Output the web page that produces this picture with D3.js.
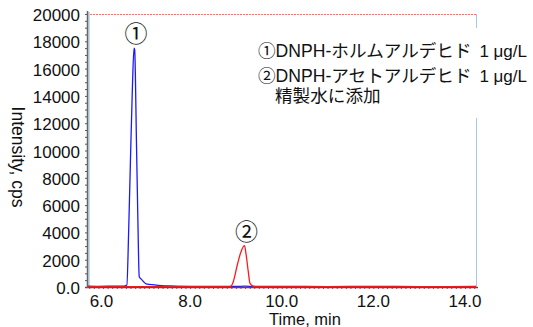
<!DOCTYPE html>
<html>
<head>
<meta charset="utf-8">
<script src="https://cdn.jsdelivr.net/npm/d3@7"></script>
<style>
  body { margin: 0; background: #fff; }
  text { font-family: "Liberation Sans", Arial, "Noto Sans CJK JP", sans-serif; fill: #111; }
</style>
</head>
<body>
<div id="chart"></div>
<script>
//data
//blue trace: DNPH-formaldehyde
let blueTime = [5.75, 6.0, 6.3, 6.55, 6.62, 6.66, 6.70, 6.74, 6.776, 6.79, 6.83, 6.86, 6.89, 6.94, 7.04, 7.22, 7.5, 8.0, 8.5, 9.0, 9.2, 9.4, 10.0, 11.0, 12.0, 13.0, 14.24];
let blueInt = [60, 50, 60, 70, 150, 4200, 9500, 14500, 17500, 17400, 10500, 5000, 750, 560, 230, 160, 80, 40, 40, 40, 60, 40, 40, 30, 40, 30, 40];

//red trace: DNPH-acetaldehyde
let redTime = [5.75, 6.5, 7.0, 7.4, 7.6, 7.8, 8.2, 8.8, 8.886, 8.942, 9.03, 9.10, 9.187, 9.219, 9.27, 9.307, 9.37, 9.45, 9.8, 10.5, 12.0, 14.24];
let redInt = [20, 20, 20, 40, 60, 40, 20, 20, 40, 390, 1610, 2470, 3030, 2470, 1120, 270, 70, 30, 20, 20, 20, 20];

//tick labels
let xTicks = [6.0, 8.0, 10.0, 12.0, 14.0];
let yTicks = [0, 2000, 4000, 6000, 8000, 10000, 12000, 14000, 16000, 18000, 20000];

//peak markers
let peakNames = ['①', '②'];
let peakTimes = [6.776, 9.187];
let peakHeights = [17500, 3030];

//legend lines
let legendNames = ['①DNPH-ホルムアルデヒド', '②DNPH-アセトアルデヒド', '精製水に添加'];
let legendConc = ['1 μg/L', '1 μg/L', ''];

//svg size
let svgWidth = 533;
let svgHeight = 327;

let plotLeft = 87, plotRight = 476, plotTop = 14, plotBottom = 287;

let svg = d3.select('#chart')
            .append('svg')
            .attr('width', svgWidth)
            .attr('height', svgHeight);

svg.append('rect')
   .attr('width', svgWidth)
   .attr('height', svgHeight)
   .attr('fill', '#fff');

//scales
let xScale = d3.scaleLinear()
               .domain([5.75, 14.24])
               .range([plotLeft, plotRight]);

let yScale = d3.scaleLinear()
               .domain([0, 20000])
               .range([plotBottom, plotTop]);

//frame: red dotted top, light blue right
svg.append('line')
   .attr('x1', plotLeft).attr('x2', plotRight)
   .attr('y1', plotTop + 0.5).attr('y2', plotTop + 0.5)
   .attr('stroke', '#ff6f6f')
   .attr('stroke-dasharray', '2,1');

svg.append('line')
   .attr('x1', plotRight + 0.5).attr('x2', plotRight + 0.5)
   .attr('y1', plotTop).attr('y2', plotBottom)
   .attr('stroke', '#a9c6ea');

//light blue strip next to the y axis
svg.append('rect')
   .attr('x', plotLeft + 1)
   .attr('y', plotTop - 2)
   .attr('width', 2)
   .attr('height', plotBottom - plotTop + 2)
   .attr('fill', '#c6dcf3');

//traces
let line = d3.line()
             .x(d => xScale(d[0]))
             .y(d => yScale(d[1]))
             .curve(d3.curveMonotoneX);

svg.append('path')
   .datum(blueTime.map((t, i) => [t, blueInt[i]]))
   .attr('d', line)
   .attr('fill', 'none')
   .attr('stroke', '#1a1aff')
   .attr('stroke-width', 1.3);

svg.append('path')
   .datum(redTime.map((t, i) => [t, redInt[i]]))
   .attr('d', line)
   .attr('fill', 'none')
   .attr('stroke', '#ff1a1a')
   .attr('stroke-width', 1.3);

//x axis with minor ticks
let xAxis = d3.axisBottom(xScale)
              .tickValues(d3.range(5.8, 14.25, 0.1))
              .tickSize(2)
              .tickFormat('');

let xAxisG = svg.append('g')
                .attr('transform', `translate(0, ${plotBottom})`)
                .call(xAxis);
xAxisG.select('.domain').remove();
xAxisG.selectAll('line').attr('stroke', '#666');

svg.append('line')
   .attr('x1', plotLeft - 2).attr('x2', plotRight + 2)
   .attr('y1', plotBottom + 0.5).attr('y2', plotBottom + 0.5)
   .attr('stroke', '#a32a3c')
   .attr('stroke-width', 1.5);

svg.append('g')
   .selectAll('text')
   .data(xTicks)
   .enter()
   .append('text')
   .attr('x', d => xScale(d) + (d === 6 ? 3 : 0))
   .attr('y', 306.5)
   .attr('text-anchor', 'middle')
   .attr('font-size', 17)
   .text(d => d.toFixed(1));

//y axis with minor ticks
let yAxis = d3.axisLeft(yScale)
              .tickValues(d3.range(0, 20001, 500))
              .tickSize(2)
              .tickFormat('');

let yAxisG = svg.append('g')
                .attr('transform', `translate(${plotLeft}, 0)`)
                .call(yAxis);
yAxisG.select('.domain').remove();
yAxisG.selectAll('line').attr('stroke', '#555');

svg.append('line')
   .attr('x1', plotLeft + 0.5).attr('x2', plotLeft + 0.5)
   .attr('y1', plotTop - 3).attr('y2', plotBottom + 1)
   .attr('stroke', '#666')
   .attr('stroke-width', 1.5);

svg.append('g')
   .selectAll('text')
   .data(yTicks)
   .enter()
   .append('text')
   .attr('x', 80)
   .attr('y', d => yScale(d) + 7)
   .attr('text-anchor', 'end')
   .attr('font-size', 17)
   .text(d => d === 0 ? '0.0' : d);

//axis titles
svg.append('text')
   .attr('x', 305)
   .attr('y', 324.5)
   .attr('text-anchor', 'middle')
   .attr('font-size', 16.5)
   .text('Time, min');

svg.append('text')
   .attr('transform', 'translate(12, 157) rotate(90)')
   .attr('text-anchor', 'middle')
   .attr('font-size', 17.5)
   .text('Intensity, cps');

//peak labels
svg.append('g')
   .selectAll('text')
   .data(peakNames)
   .enter()
   .append('text')
   .attr('x', (d, i) => xScale(peakTimes[i]) + 2)
   .attr('y', (d, i) => yScale(peakHeights[i]) - 6)
   .attr('text-anchor', 'middle')
   .attr('font-size', 23)
   .style('font-family', '"Noto Sans CJK JP", sans-serif')
   .text(d => d);

//legend box (white, hides the right frame)
svg.append('rect')
   .attr('x', 252)
   .attr('y', 28)
   .attr('width', 281)
   .attr('height', 90)
   .attr('fill', '#fff');

let legendY = [56.5, 81.5, 102];
let legendX = [258, 258, 275];

svg.append('g')
   .selectAll('text')
   .data(legendNames)
   .enter()
   .append('text')
   .attr('x', (d, i) => legendX[i])
   .attr('y', (d, i) => legendY[i])
   .attr('font-size', 17.6)
   .text(d => d);

svg.append('g')
   .selectAll('text')
   .data(legendConc)
   .enter()
   .append('text')
   .attr('x', 527)
   .attr('y', (d, i) => legendY[i])
   .attr('text-anchor', 'end')
   .attr('font-size', 17)
   .text(d => d);
</script>
</body>
</html>
